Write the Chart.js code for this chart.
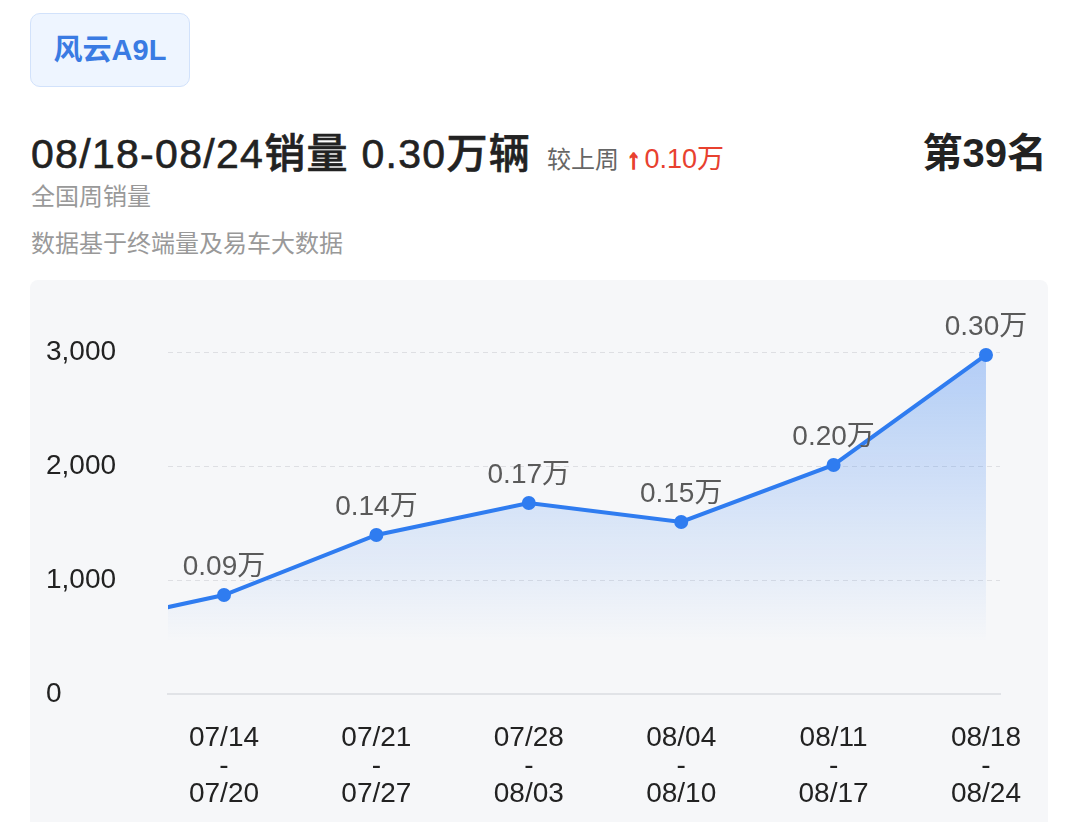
<!DOCTYPE html>
<html>
<head>
<meta charset="utf-8">
<script src="https://cdn.jsdelivr.net/npm/chart.js@4"></script>
<style>
  body { margin: 0; background: #fff; font-family: "Liberation Sans", "Noto Sans CJK SC", sans-serif; width: 1080px; height: 822px; overflow: hidden; position: relative; }
  .badge { position: absolute; left: 30px; top: 13px; width: 158px; height: 72px; border: 1.5px solid #d2e2fb; background: #eef5ff; border-radius: 10px; color: #3a7be3; font-size: 29px; font-weight: 600; line-height: 72px; text-align: center; }
  .title { position: absolute; left: 31px; top: 120px; height: 48px; display: flex; align-items: baseline; white-space: nowrap; }
  .title .main { font-size: 41px; font-weight: 500; color: #222; letter-spacing: 1.3px; -webkit-text-stroke: 0.6px #222; }
  .title .cmp { font-size: 24px; color: #666; margin-left: 16px; }
  .title .up { font-size: 27px; color: #e8412f; margin-left: 8px; }
  .title .up b { font-weight: 900; margin-right: 4px; -webkit-text-stroke: 1.6px #e8412f; }
  .rank { position: absolute; right: 33px; top: 121px; font-size: 40px; font-weight: 700; color: #222; }
  .sub { position: absolute; left: 31px; font-size: 24px; color: #999; }
  .card { position: absolute; left: 30px; top: 280px; width: 1018px; height: 542px; background: #f6f7f9; border-radius: 8px 8px 0 0; }
</style>
</head>
<body>
<div class="badge">风云A9L</div>
<div class="title"><span class="main">08/18-08/24销量 0.30万辆</span><span class="cmp">较上周</span><span class="up"><b>↑</b>0.10万</span></div>
<div class="rank">第39名</div>
<div class="sub" style="top:177px">全国周销量</div>
<div class="sub" style="top:224px">数据基于终端量及易车大数据</div>
<div class="card"><canvas id="chart_one"></canvas></div>
<script>
// weeks: the first one is the week before 07/14, only its line segment shows
const weekStart = ["07/07", "07/14", "07/21", "07/28", "08/04", "08/11", "08/18"];
const weekEnd = ["07/13", "07/20", "07/27", "08/03", "08/10", "08/17", "08/24"];
const sales = [580, 868, 1395, 1675, 1509, 2009, 2974];
const yTicks = [0, 1000, 2000, 3000];

const blue = "#2f7cf0";

const pointLabels = {
  id: "pointLabels",
  afterDatasetsDraw(chart) {
    const ctx = chart.ctx;
    const area = chart.chartArea;
    const meta = chart.getDatasetMeta(0);
    ctx.save();
    ctx.font = '28px "Liberation Sans", "Noto Sans CJK SC"';
    ctx.fillStyle = "#5a5a5a";
    ctx.textAlign = "center";
    ctx.textBaseline = "middle";
    meta.data.forEach((pt, i) => {
      if (pt.x < area.left || pt.x > area.right) return;
      ctx.fillText((sales[i] / 10000).toFixed(2) + "万", pt.x, pt.y - 28);
    });
    ctx.restore();
  },
};

function generateSalesGraph() {
  let lineGraph = document.getElementById("chart_one").getContext("2d");
  let salesChart = new Chart(lineGraph, {
    type: "line",
    data: {
      datasets: [
        {
          label: "周销量",
          data: sales.map((v, i) => ({ x: i, y: v })),
          borderColor: blue,
          borderWidth: 4,
          pointRadius: 7,
          pointBackgroundColor: blue,
          pointBorderWidth: 0,
          tension: 0,
          clip: { left: 0, top: 12, right: 12, bottom: 0 },
          fill: "origin",
          backgroundColor: (c) => {
            const area = c.chart.chartArea;
            if (!area) return "rgba(47,124,240,0.3)";
            const g = c.chart.ctx.createLinearGradient(0, area.top, 0, area.top + 290);
            g.addColorStop(0, "rgba(47,124,240,0.34)");
            g.addColorStop(1, "rgba(47,124,240,0)");
            return g;
          },
        },
      ],
    },
    options: {
      responsive: false,
      animation: false,
      layout: { padding: { left: 16, right: 48, top: 72, bottom: 0 } },
      plugins: {
        legend: { display: false },
        tooltip: { enabled: false },
      },
      scales: {
        x: {
          type: "linear",
          min: 0.6325,
          max: 6.092,
          afterBuildTicks: (s) => {
            s.ticks = weekStart.slice(1).map((_, i) => ({ value: i + 1 }));
          },
          afterFit: (s) => { s.height = 128; },
          grid: { display: false },
          border: { display: true, color: "#e1e3e7", width: 2 },
          ticks: {
            autoSkip: false,
            maxRotation: 0,
            padding: 22,
            color: "#222",
            font: { size: 28, family: '"Liberation Sans", "Noto Sans CJK SC"', lineHeight: 1 },
            callback: (v) => [weekStart[v], "-", weekEnd[v]],
          },
        },
        y: {
          min: yTicks[0],
          max: yTicks[yTicks.length - 1],
          afterBuildTicks: (s) => {
            s.ticks = yTicks.map((v) => ({ value: v }));
          },
          afterFit: (s) => { s.width = 122; },
          grid: {
            drawTicks: false,
            color: (c) => (c.tick && c.tick.value === 0 ? "rgba(0,0,0,0)" : "#dedfe3"),
            lineWidth: 1,
          },
          border: { display: false, dash: [5, 4] },
          ticks: {
            crossAlign: "far",
            padding: 0,
            color: "#222",
            font: { size: 28, family: '"Liberation Sans", "Noto Sans CJK SC"' },
            callback: (v) => v.toLocaleString("en-US"),
          },
        },
      },
    },
    plugins: [pointLabels],
  });
}

const cv = document.getElementById("chart_one");
cv.width = 1018;
cv.height = 542;
cv.style.width = "1018px";
cv.style.height = "542px";
generateSalesGraph();
</script>
</body>
</html>
